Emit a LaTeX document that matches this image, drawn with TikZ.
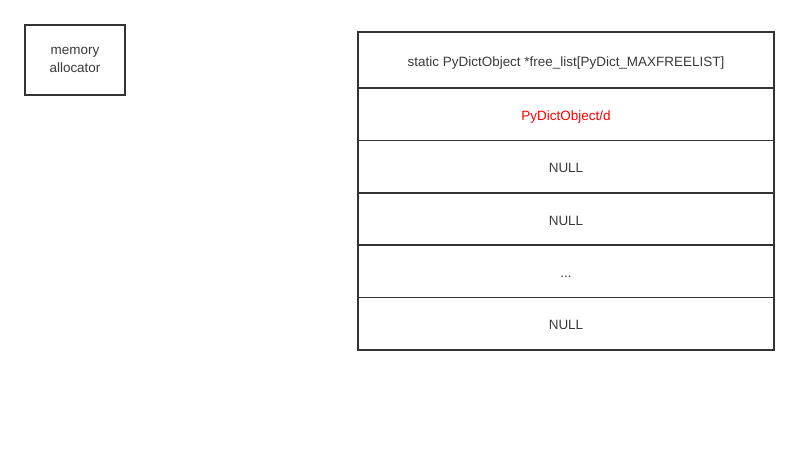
\documentclass[tikz,border=0pt]{standalone}
\usepackage{fontspec}
\setmainfont{Liberation Sans}
\usepackage{tikz}
\usetikzlibrary{positioning}
\definecolor{linegray}{HTML}{333333}
\definecolor{textgray}{HTML}{3A3A3A}
\definecolor{listred}{HTML}{FF0000}
\begin{document}
\begin{tikzpicture}[x=0.75pt, y=-0.75pt,
        box/.style={rectangle, draw=linegray, line width=1.1pt, text=textgray, align=center, outer sep=0pt, font=\fontsize{10.1}{12.5}\selectfont},
        slot/.style={box, minimum width=312pt, minimum height=39.3pt, text height=11pt, text depth=2pt}]
    \useasboundingbox (0,0) rectangle (799,464);

    % Allocator
    \node[box, minimum width=75pt, minimum height=52.5pt] (alloc) at (75,60) {memory\\[0.5pt]allocator};

    % Free list
    \node[slot, minimum height=42pt] (head) at (566,60) {static PyDictObject *free\_list[PyDict\_MAXFREELIST]};
    \node[slot, below=0pt of head, text=listred] (slot0) {PyDictObject/d};
    \node[slot, below=0pt of slot0] (slot1) {NULL};
    \node[slot, below=0pt of slot1] (slot2) {NULL};
    \node[slot, below=0pt of slot2] (dots) {...};
    \node[slot, below=0pt of dots] (slotn) {NULL};

\end{tikzpicture}
\end{document}
